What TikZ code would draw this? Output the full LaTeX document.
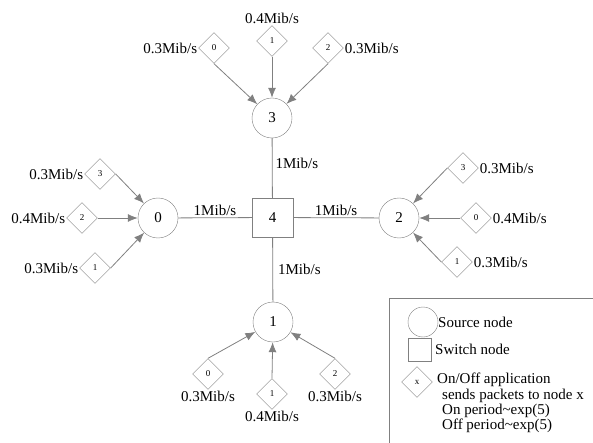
\documentclass[tikz,border=0pt]{standalone}
\usepackage{fontspec}
\setmainfont{Liberation Serif}
\usepackage{tikz}
\usetikzlibrary{arrows.meta,positioning,shapes.geometric}
\definecolor{linegray}{RGB}{128,128,128}
\tikzset{
  srcnode/.style={circle, draw=linegray, fill=white, inner sep=0pt, minimum size=40pt, font=\fontsize{15}{18}\selectfont},
  swnode/.style={rectangle, draw=linegray, fill=white, inner sep=0pt, minimum width=41pt, minimum height=39pt, font=\fontsize{15}{18}\selectfont},
  app/.style={diamond, aspect=1, draw=linegray, fill=white, inner sep=0pt, minimum width=31pt, minimum height=31pt, font=\fontsize{9}{10}\selectfont},
  rate/.style={inner sep=1pt, font=\fontsize{15}{18}\selectfont},
  flow/.style={draw=linegray, line width=0.8pt, -{Latex[length=10pt,width=8pt]}},
  link/.style={draw=linegray, line width=0.8pt},
  legtext/.style={anchor=west, inner sep=0pt, align=left, font=\fontsize{15}{15}\selectfont}
}
\begin{document}
\begin{tikzpicture}[x=1pt,y=-1pt]
  \useasboundingbox (0,0) rectangle (593,443);

  % Core
  \node[swnode] (n4) at (272.5,217.5) {4};
  \node[srcnode] (n0) at (158,218) {0};
  \node[srcnode] (n1) at (273,322) {1};
  \node[srcnode] (n2) at (399,218) {2};
  \node[srcnode] (n3) at (272,118) {3};
  \draw[link] (n3) -- node[rate, right=2pt, pos=.43] {1Mib/s} (n4);
  \draw[link] (n0) -- node[rate, above=1pt] {1Mib/s} (n4);
  \draw[link] (n4) -- node[rate, above=1pt] {1Mib/s} (n2);
  \draw[link] (n4) -- node[rate, right=4pt] {1Mib/s} (n1);

  % Apps to node 3
  \node[app] (a30) at (214,48) {0};
  \node[app] (a31) at (272,41) {1};
  \node[app] (a32) at (328,48) {2};
  \node[rate, left=0pt of a30] (r30) {0.3Mib/s};
  \node[rate, above=0pt of a31] (r31) {0.4Mib/s};
  \node[rate, right=0pt of a32] (r32) {0.3Mib/s};
  \draw[flow] (a30.south) -- (n3);
  \draw[flow] (a31.south) -- (n3);
  \draw[flow] (a32.south) -- (n3);

  % Apps to node 0
  \node[app] (a03) at (100,174) {3};
  \node[app] (a02) at (82,218) {2};
  \node[app] (a01) at (95,268) {1};
  \node[rate, left=0pt of a03] (r03) {0.3Mib/s};
  \node[rate, left=0pt of a02] (r02) {0.4Mib/s};
  \node[rate, left=0pt of a01] (r01) {0.3Mib/s};
  \draw[flow] (a03.east) -- (n0);
  \draw[flow] (a02.east) -- (n0);
  \draw[flow] (a01.east) -- (n0);

  % Apps to node 2
  \node[app] (a23) at (463,168) {3};
  \node[app] (a20) at (476,218) {0};
  \node[app] (a21) at (457,262) {1};
  \node[rate, right=0pt of a23] (r23) {0.3Mib/s};
  \node[rate, right=0pt of a20] (r20) {0.4Mib/s};
  \node[rate, right=0pt of a21] (r21) {0.3Mib/s};
  \draw[flow] (a23.west) -- (n2);
  \draw[flow] (a20.west) -- (n2);
  \draw[flow] (a21.west) -- (n2);

  % Apps to node 1
  \node[app] (a10) at (208,374) {0};
  \node[app] (a11) at (272,394) {1};
  \node[app] (a12) at (335,374) {2};
  \node[rate, below=0pt of a10] (r10) {0.3Mib/s};
  \node[rate, below=0pt of a11] (r11) {0.4Mib/s};
  \node[rate, below=0pt of a12] (r12) {0.3Mib/s};
  \draw[flow] (a10.north) -- (n1);
  \draw[flow] (a11.north) -- (n1);
  \draw[flow] (a12.north) -- (n1);

  % Legend
  \draw[link] (389,443) |- (593,298);
  \node[srcnode, minimum size=30pt] (lsrc) at (423,322) {};
  \node[swnode, minimum width=23pt, minimum height=23pt] (lsw) at (420,350) {};
  \node[app] (lapp) at (417,382) {x};
  \node[legtext] (tsrc) at (438,322) {Source node};
  \node[legtext] (tsw) at (435,349) {Switch node};
  \node[legtext] (tapp) at (437,380) {On/Off application};
  \node[legtext, anchor=north west] (tinfo) at (442,389) {sends packets to node x\\On period\textasciitilde exp(5)\\Off period\textasciitilde exp(5)};
\end{tikzpicture}
\end{document}
